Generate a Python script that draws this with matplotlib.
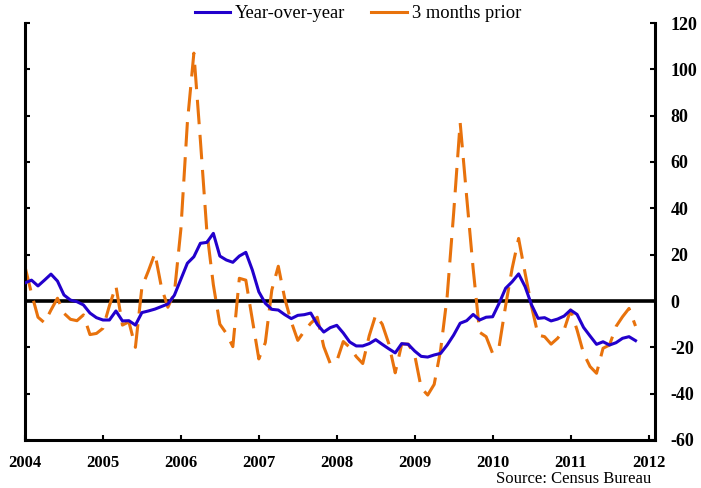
import matplotlib.pyplot as plt
import numpy as np

plt.rcParams['font.family'] = ['Liberation Serif', 'DejaVu Serif']

# monthly series, Jan 2004 .. Nov 2011 (percent change)
yoy = [7.8, 9, 6.5, 9, 11.6, 8.6, 2.6, 0.4, -0.3, -1.7, -5.2, -7.2,
       -8.2, -8.2, -4.3, -8.6, -8.5, -10.4, -5, -4.3, -3.5, -2.4, -1.3, 2.5,
       9.4, 16.3, 19.1, 24.9, 25.3, 29.2, 19.4, 17.7, 16.7, 19.4, 21, 13.4,
       4, -1, -3.6, -3.9, -5.9, -7.6, -6.2, -5.9, -5.2, -10.1, -13.4, -11.5,
       -10.5, -13.8, -17.7, -19.4, -19.4, -18.4, -16.7, -18.7, -20.6, -22.4, -18.4, -18.7,
       -21.6, -23.9, -24.2, -23.3, -22.6, -19, -14.7, -9.6, -8.5, -5.8, -8.2, -7,
       -6.8, -1, 5.5, 8.3, 11.7, 6.2, -1.7, -7.5, -7.2, -8.6, -7.8, -6.5,
       -3.9, -5.8, -11.4, -15.1, -18.7, -17.6, -19, -18, -16.1, -15.4, -17.1]

prior3 = [14.8, 3.3, -7, -9.4, -3.9, 1.2, -5.3, -7.9, -8.5, -6, -14.5, -14,
          -11.8, -2, 6.5, -10.4, -9, -20, 6, 13, 20.6, 6, -2.7, 3.5,
          31, 77, 107, 69.5, 30, 7, -10, -14, -19.7, 9.8, 9, -8,
          -25, -18, 4.7, 15, 1, -9, -17, -13, -9.6, -7, -19.7, -27,
          -26, -17.5, -20, -24, -27, -15, -6, -10, -18.3, -31, -18.6, -18.6,
          -23.3, -37.5, -40.6, -36, -21, 2, 38, 77, 45, 14, -13.5, -15.4,
          -22.6, -19.7, -2, 14, 27, 12, -2.4, -14.7, -15.4, -18.6, -16.1, -12.5,
          -3.9, -12.5, -22.6, -28.3, -31.2, -20.4, -19, -11, -6.8, -3.2, -10.8]

years = [str(y) for y in range(2004, 2013)]
months = np.arange(len(yoy))

fig = plt.figure(figsize=(7.01, 4.88), dpi=100)
ax = fig.add_axes([25 / 701, 48 / 488, 630 / 701, 417 / 488])

ax.axhline(0, color='black', lw=2.6, zorder=1)
l1, = ax.plot(months, yoy, color='#2200CC', lw=2.2, zorder=3,
              label='Year-over-year')
l2, = ax.plot(months, prior3, color='#E8720C', lw=2.2, zorder=2,
              linestyle=(0, (8, 3.5)), label='3 months prior')

ax.set_xlim(0, 97)
ax.set_ylim(-60, 120)
ax.set_xticks(np.arange(0, 97, 12))
ax.set_xticklabels(years, fontweight='bold', fontsize=12)
ax.set_yticks(np.arange(-60, 121, 20))
ax.set_yticklabels([str(v) for v in range(-60, 121, 20)],
                   fontweight='bold', fontsize=13)

ax.tick_params(axis='y', left=True, right=True, labelleft=False,
               labelright=True, direction='in', length=3.6, width=1.5, pad=11)
ax.tick_params(axis='x', direction='in', length=3.6, width=1.5, pad=11)

ax.spines['top'].set_visible(False)
for s in ['left', 'right', 'bottom']:
    ax.spines[s].set_linewidth(2.2)

# legend sits above the plot area
leg = fig.legend([l1, plt.Line2D([], [], color='#E8720C', lw=2.2)],
                 ['Year-over-year', '3 months prior'],
                 loc='center', bbox_to_anchor=(358 / 701, 1 - 14 / 488),
                 ncol=2, frameon=False, fontsize=13.3, handlelength=1.9,
                 handletextpad=0.3, columnspacing=1.4)

fig.text(651 / 701, 1 - 479 / 488, 'Source: Census Bureau', ha='right',
         va='center', fontsize=12)

fig.savefig('out.png', dpi=100)
